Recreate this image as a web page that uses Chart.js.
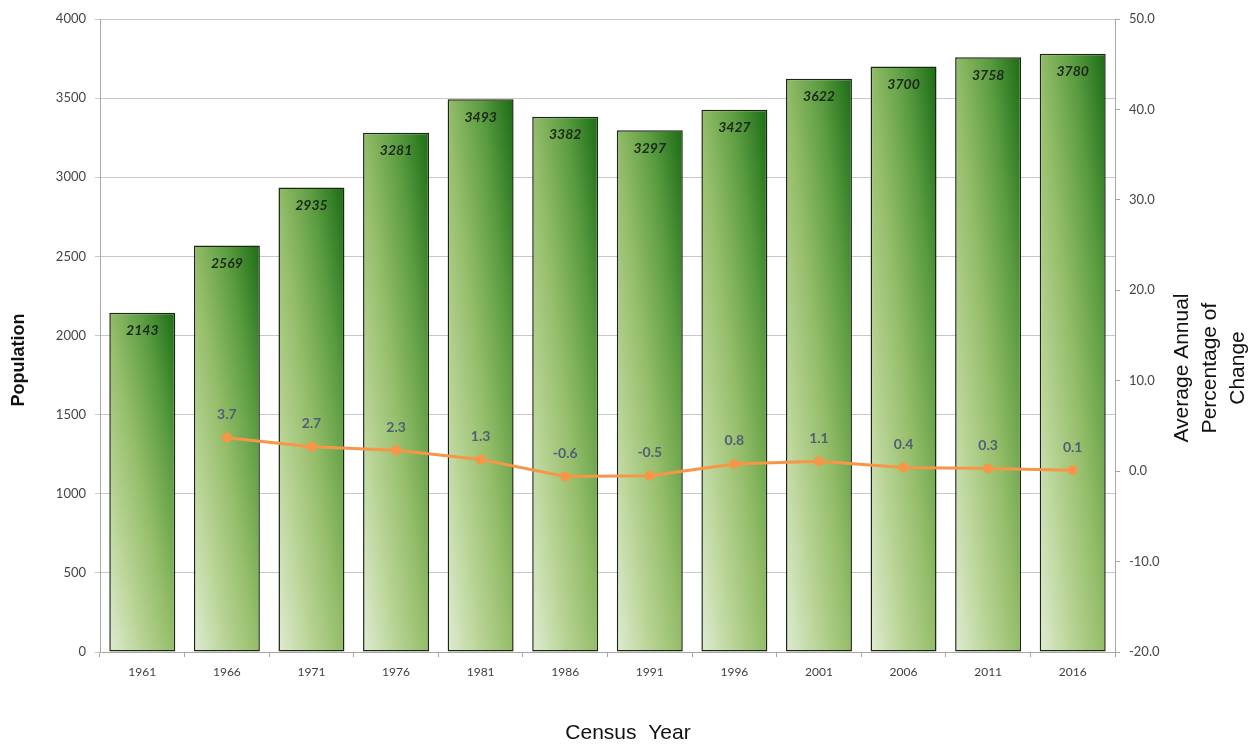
<!DOCTYPE html>
<html>
<head>
<meta charset="utf-8">
<script src="https://cdn.jsdelivr.net/npm/chart.js@4.4.1/dist/chart.umd.min.js"></script>
<style>
  html, body { margin: 0; padding: 0; background: #fff; }
  canvas { display: block; }
</style>
</head>
<body>
<canvas id="chart" width="1258" height="747"></canvas>
<script>
const years = ['1961', '1966', '1971', '1976', '1981', '1986', '1991', '1996', '2001', '2006', '2011', '2016'];
const population = [2143, 2569, 2935, 3281, 3493, 3382, 3297, 3427, 3622, 3700, 3758, 3780];
const pctChange = [null, 3.7, 2.7, 2.3, 1.3, -0.6, -0.5, 0.8, 1.1, 0.4, 0.3, 0.1];
const popAxis = { min: 0, max: 4000, step: 500 };
const pctAxis = { min: -20, max: 50, step: 10 };

const BAR_PCT = 0.78;
const tickFont = { family: 'Lato', size: 13 };

// diagonal gradient per bar: pale at bottom-left, dark green at top-right
const barFill = (context) => {
  const chart = context.chart;
  const area = chart.chartArea;
  if (!area || context.type !== 'data') return '#6fa548';
  const sx = chart.scales.x;
  const sy = chart.scales.y;
  const cx = sx.getPixelForValue(context.dataIndex);
  const w = (area.width / years.length) * BAR_PCT;
  const top = sy.getPixelForValue(population[context.dataIndex]);
  const base = sy.getPixelForValue(0);
  const h = base - top;
  const x0 = cx - w / 2;
  const k = (2 * w * h) / (w * w + h * h);
  const g = chart.ctx.createLinearGradient(x0, base, x0 + k * h, base - k * w);
  g.addColorStop(0, '#dfebd2');
  g.addColorStop(0.25, '#b9d496');
  g.addColorStop(0.5, '#93bc68');
  g.addColorStop(0.75, '#5b9c41');
  g.addColorStop(1, '#1b6c15');
  return g;
};

const valueLabels = {
  id: 'valueLabels',
  afterDatasetsDraw(chart) {
    const c = chart.ctx;
    c.save();
    c.textAlign = 'center';
    c.textBaseline = 'middle';
    c.font = 'italic bold 14px Lato';
    c.fillStyle = '#1b2718';
    chart.getDatasetMeta(0).data.forEach((bar, i) => {
      c.fillText(String(population[i]), bar.x, bar.y + 18);
    });
    c.font = 'bold 14px Lato';
    c.fillStyle = '#4f5f76';
    chart.getDatasetMeta(1).data.forEach((pt, i) => {
      if (pctChange[i] === null) return;
      c.fillText(pctChange[i].toFixed(1), pt.x, pt.y - 23);
    });
    c.restore();
  }
};

const axisTitles = {
  id: 'axisTitles',
  afterDraw(chart) {
    const c = chart.ctx;
    c.save();
    c.fillStyle = '#111';
    c.textAlign = 'center';
    c.textBaseline = 'middle';

    c.save();
    c.translate(19, 360);
    c.rotate(-Math.PI / 2);
    c.font = 'bold 18px "Liberation Sans"';
    c.fillText('Population', 0, 0);
    c.restore();

    c.save();
    c.translate(1210, 368);
    c.rotate(-Math.PI / 2);
    c.font = '21px "Liberation Sans"';
    ['Average Annual', 'Percentage of', 'Change'].forEach((t, i) => {
      c.fillText(t, 0, (i - 1) * 28);
    });
    c.restore();

    c.font = '21px "Liberation Sans"';
    c.fillText('Census  Year', 628, 733);
    c.restore();
  }
};

new Chart(document.getElementById('chart').getContext('2d'), {
  data: {
    labels: years,
    datasets: [
      {
        type: 'bar',
        label: 'Population',
        data: population,
        yAxisID: 'y',
        order: 2,
        backgroundColor: barFill,
        borderColor: '#1b2614',
        borderWidth: 1.5,
        borderSkipped: false,
        barPercentage: BAR_PCT,
        categoryPercentage: 1,
      },
      {
        type: 'line',
        label: 'Average Annual Percentage of Change',
        data: pctChange,
        yAxisID: 'y2',
        order: 1,
        borderColor: '#f79646',
        backgroundColor: '#f79646',
        borderWidth: 3,
        pointRadius: 5,
        pointBorderWidth: 0,
        tension: 0,
        spanGaps: false,
      },
    ],
  },
  options: {
    responsive: false,
    animation: false,
    layout: { padding: { top: 19, bottom: 0, left: 0, right: 0 } },
    plugins: {
      legend: { display: false },
      tooltip: { enabled: false },
    },
    scales: {
      x: {
        offset: true,
        grid: { offset: true, drawOnChartArea: false, tickLength: 5, color: '#a6a6a6' },
        border: { color: '#a6a6a6' },
        ticks: { font: { family: 'Lato', size: 12 }, color: '#404040', padding: 8 },
        afterFit(scale) { scale.height = 95; },
      },
      y: {
        position: 'left',
        min: popAxis.min,
        max: popAxis.max,
        grid: { color: '#c8c8c8', tickLength: 5 },
        border: { color: '#a6a6a6' },
        ticks: {
          stepSize: popAxis.step,
          font: tickFont,
          color: '#454545',
          padding: 9,
          callback: (v) => String(v),
        },
        afterFit(scale) { scale.width = 100; },
      },
      y2: {
        position: 'right',
        min: pctAxis.min,
        max: pctAxis.max,
        grid: { drawOnChartArea: false, tickLength: 5, color: '#a6a6a6' },
        border: { color: '#a6a6a6' },
        ticks: {
          stepSize: pctAxis.step,
          font: tickFont,
          color: '#454545',
          padding: 9,
          callback: (v) => Number(v).toFixed(1),
        },
        afterFit(scale) { scale.width = 143; },
      },
    },
  },
  plugins: [valueLabels, axisTitles],
});
</script>
</body>
</html>
